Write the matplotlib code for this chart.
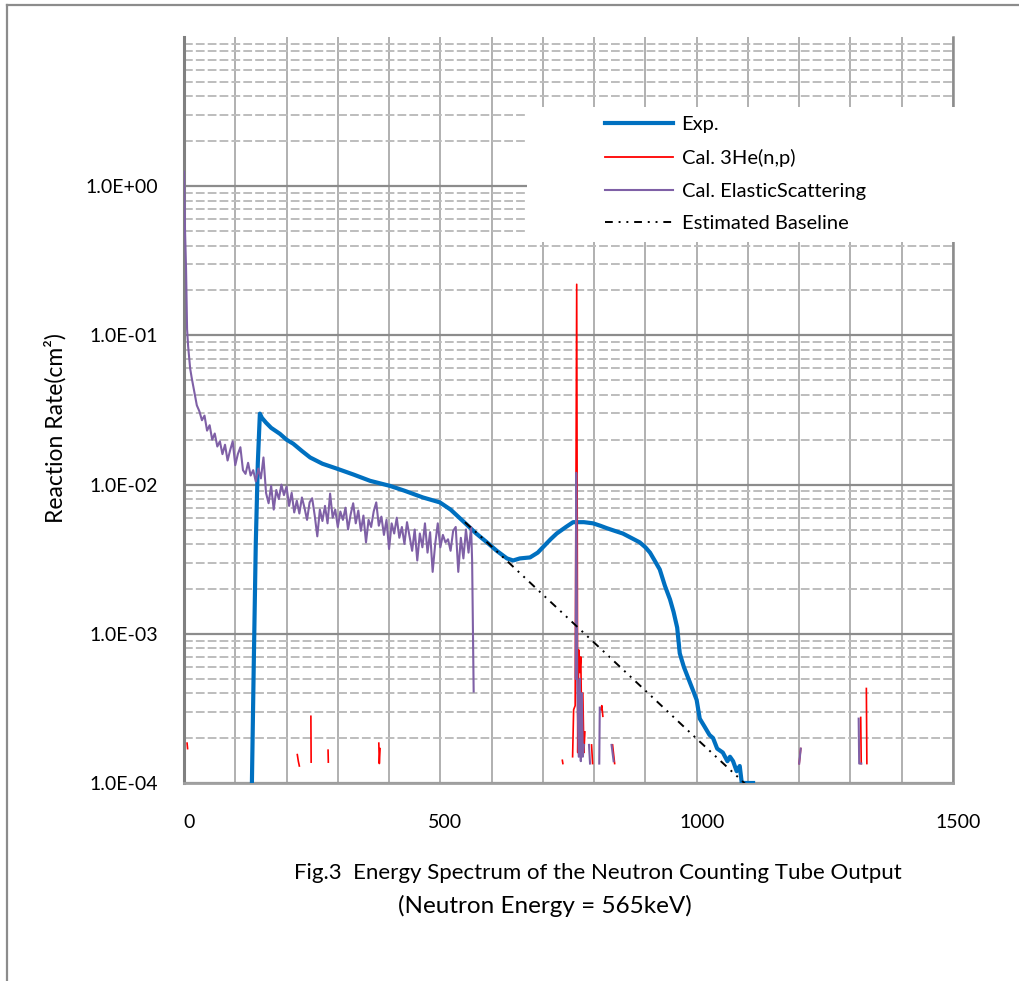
import numpy as np
import matplotlib
matplotlib.use("Agg")
import matplotlib.pyplot as plt
from matplotlib.lines import Line2D
from matplotlib.patches import Rectangle
from matplotlib.ticker import MultipleLocator, FixedLocator, NullFormatter
from matplotlib.transforms import ScaledTranslation

plt.rcParams['font.family'] = ['Lato', 'DejaVu Sans']

# ---------------- data ----------------
exp_x = [132, 136, 140, 144, 148, 152, 160, 170, 187, 200, 213, 230, 246, 270, 298,
         330, 363, 402, 430, 466, 499, 520, 544, 570, 591, 610, 630, 642, 655, 675,
         690, 700, 715, 727, 745, 759, 780, 798, 812, 825, 840, 856, 872, 889, 900,
         909, 918, 928, 938, 948, 955, 962, 967, 975, 987, 995, 1000, 1006, 1015,
         1025, 1032, 1040, 1051, 1060, 1065, 1071, 1078, 1084, 1088, 1095, 1110]
exp_y = [8e-5, 6e-4, 4e-3, 0.014, 0.0299, 0.028, 0.026, 0.024, 0.0219, 0.0200,
         0.0188, 0.0168, 0.0152, 0.0138, 0.0128, 0.0117, 0.0106, 0.0098, 0.0091,
         0.0082, 0.0076, 0.0068, 0.0057, 0.0047, 0.0041, 0.0036, 0.0032, 0.0031,
         0.0032, 0.00325, 0.0035, 0.0038, 0.0043, 0.0047, 0.0052, 0.0056, 0.0056,
         0.0055, 0.0053, 0.0051, 0.0049, 0.0047, 0.0044, 0.0041, 0.0038, 0.0035,
         0.0031, 0.0027, 0.0021, 0.0017, 0.0014, 0.0011, 0.00074, 0.00060, 0.00047,
         0.00040, 0.00036, 0.00027, 0.00024, 0.00021, 0.00020, 0.00017, 0.00016,
         0.00014, 0.00015, 0.00014, 0.00012, 0.00013, 0.0001, 0.0001, 0.0001]

he3_x = [6, 7, 8, 221, 223, 225, 226, 247.5, 248, 249, 281, 281.5, 282,
         380, 381, 382.5, 383, 738, 739, 740,
         758, 760, 763, 766, 768, 770, 772, 774, 776, 778, 780, 782, 783,
         795, 797, 798, 813, 815, 817, 818, 836, 840, 841,
         1200, 1203, 1204, 1320, 1321, 1322, 1331, 1332]
he3_y = [1.85e-4, 1.70e-4, None, 1.55e-4, 1.40e-4, 1.30e-4, None, 2.8e-4, 1.38e-4, None,
         1.66e-4, 1.38e-4, None, 1.85e-4, 1.35e-4, 1.70e-4, None, 1.42e-4, 1.35e-4, None,
         1.5e-4, 3.1e-4, 3.3e-4, 0.22, 1.6e-4, 7.8e-4, 5.5e-4, 7.0e-4, 2.0e-4, 4.0e-4,
         1.6e-4, 2.2e-4, None, 1.8e-4, 1.35e-4, None, 3.1e-4, 3.3e-4, 2.8e-4, None,
         1.8e-4, 1.35e-4, None, 1.35e-4, 1.7e-4, None, 2.75e-4, 1.35e-4, None,
         4.3e-4, 1.35e-4]

elastic_x = [0, 2, 4, 6, 8, 10, 12, 15, 20, 25, 30, 35, 40, 45, 50, 55, 60, 65, 70,
             75, 80, 85, 90, 95, 100, 105, 110, 115, 120, 125, 130, 135, 140, 145,
             150, 155, 160, 165, 170, 175, 180, 185, 190, 195, 200, 205, 210, 215,
             220, 225, 230, 235, 240, 245, 250, 255, 260, 265, 270, 275, 280, 285,
             290, 295, 300, 305, 310, 315, 320, 325, 330, 335, 340, 345, 350, 355,
             360, 365, 370, 375, 380, 385, 390, 395, 400, 405, 410, 415, 420, 425,
             430, 435, 440, 445, 450, 455, 460, 465, 470, 475, 480, 485, 490, 495,
             500, 505, 510, 515, 520, 525, 530, 535, 540, 545, 550, 555, 560, 562,
             565, 566,
             764, 765, 767, 770, 772, 774, 776, 778, 780, 781,
             790, 792, 793, 810, 811, 812, 834, 838, 839,
             1200, 1203, 1204, 1316, 1317, 1321]
elastic_y = [1.25, 0.50, 0.28, 0.11, 0.085, 0.072, 0.060, 0.052, 0.042, 0.034, 0.031,
             0.027, 0.029, 0.023, 0.025, 0.020, 0.022, 0.018, 0.0195, 0.016, 0.0185,
             0.0145, 0.017, 0.0195, 0.0135, 0.016, 0.0178, 0.0125, 0.0118, 0.0140,
             0.0115, 0.0125, 0.0105, 0.0128, 0.0110, 0.0152, 0.0088, 0.0075, 0.0098,
             0.0068, 0.0092, 0.0080, 0.0100, 0.0085, 0.0097, 0.0072, 0.0088, 0.0065,
             0.0078, 0.0064, 0.0082, 0.0070, 0.0058, 0.0076, 0.0081, 0.0062, 0.0045,
             0.0068, 0.0057, 0.0072, 0.0055, 0.0087, 0.0060, 0.0068, 0.0052, 0.0066,
             0.0058, 0.0070, 0.0050, 0.0063, 0.0075, 0.0055, 0.0067, 0.0049, 0.0062,
             0.0041, 0.0058, 0.0052, 0.0066, 0.0076, 0.0053, 0.0061, 0.0046, 0.0058,
             0.0037, 0.0055, 0.0047, 0.0060, 0.0044, 0.0052, 0.0040, 0.0056, 0.0045,
             0.0036, 0.0050, 0.0031, 0.0047, 0.0038, 0.0055, 0.0035, 0.0048, 0.0026,
             0.0040, 0.0055, 0.0038, 0.0046, 0.0041, 0.0043, 0.0036, 0.0049, 0.0052,
             0.0026, 0.0044, 0.0032, 0.0050, 0.0035, 0.0052, 0.0031, 0.00041, None,
             5e-4, 0.012, 4.9e-4, 1.5e-4, 5e-4, 1.4e-4, 4e-4, 1.5e-4, 1.8e-4, None,
             1.8e-4, 1.35e-4, None, 1.35e-4, 3.2e-4, None, 1.8e-4, 1.4e-4, None,
             1.35e-4, 1.7e-4, None, 2.7e-4, 1.35e-4, 1.35e-4]

base_x = [548, 600, 700, 800, 900, 1000, 1097]
base_y = [0.00560, 0.00385, 0.00183, 0.000873, 0.000416, 0.000198, 0.0000970]

series_labels = ["Exp.", "Cal. 3He(n,p)", "Cal. ElasticScattering", "Estimated Baseline"]
xtick_vals = [0, 500, 1000, 1500]
ytick_vals = [1e-4, 1e-3, 1e-2, 1e-1, 1e0]
ytick_labels = ["1.0E-04", "1.0E-03", "1.0E-02", "1.0E-01", "1.0E+00"]


def arr(v):
    return np.array([np.nan if a is None else a for a in v], dtype=float)


# ---------------- figure ----------------
W, H = 1019, 981
fig = plt.figure(figsize=(W / 100, H / 100), dpi=100)
ax = fig.add_axes([184 / W, 1 - 783 / H, 769 / W, 746 / H])

c_blue = '#0070C0'
c_red = '#FF0000'
c_purple = '#7F60A6'
base_ls = (0, (4, 3, 1, 3, 1, 3))

ax.plot(exp_x, arr(exp_y), color=c_blue, lw=3.0, zorder=3, solid_joinstyle='round')
ax.plot(he3_x, arr(he3_y), color=c_red, lw=1.2, zorder=4)
ax.plot(elastic_x, arr(elastic_y), color=c_purple, lw=1.5, zorder=5)
ax.plot(base_x, arr(base_y), color='black', lw=1.4, zorder=6, ls=base_ls)

ax.set_yscale('log')
ax.set_xlim(0, 1500)
ax.set_ylim(1e-4, 10)

ax.xaxis.set_major_locator(FixedLocator(xtick_vals))
ax.xaxis.set_minor_locator(MultipleLocator(100))
ax.set_xticklabels([str(v) for v in xtick_vals])
ax.yaxis.set_major_locator(FixedLocator(ytick_vals))
minors = [m * d for d in [1e-4, 1e-3, 1e-2, 1e-1, 1e0] for m in range(2, 10)]
ax.yaxis.set_minor_locator(FixedLocator(minors))
ax.yaxis.set_minor_formatter(NullFormatter())
ax.set_yticklabels(ytick_labels)

ax.tick_params(which='both', length=0)
ax.tick_params(axis='y', pad=19, labelsize=14)
ax.tick_params(axis='x', pad=22, labelsize=14)
shift = ScaledTranslation(5 / 100, 0, fig.dpi_scale_trans)
for lab in ax.get_xticklabels():
    lab.set_transform(lab.get_transform() + shift)

ax.grid(which='both', axis='x', color='#B0B0B0', lw=1.4)
ax.grid(which='major', axis='y', color='#8C8C8C', lw=1.6)
ax.grid(which='minor', axis='y', color='#BDBDBD', lw=1.4, ls=(0, (4.5, 1.6)))
ax.set_axisbelow(True)

ax.spines['top'].set_visible(False)
ax.spines['left'].set_color('#808080')
ax.spines['left'].set_linewidth(2.2)
ax.spines['bottom'].set_color('#A0A0A0')
ax.spines['bottom'].set_linewidth(2.0)
ax.spines['right'].set_color('#8C8C8C')
ax.spines['right'].set_linewidth(1.8)

# white legend area
fig.add_artist(Rectangle((527 / W, 1 - 242 / H), (962 - 527) / W, (242 - 107) / H,
                         transform=fig.transFigure, facecolor='white',
                         edgecolor='none', zorder=1))

handles = [Line2D([], [], color=c_blue, lw=3.0),
           Line2D([], [], color=c_red, lw=1.3),
           Line2D([], [], color=c_purple, lw=1.5),
           Line2D([], [], color='black', lw=1.4, ls=base_ls)]
fig.legend(handles, series_labels, loc='upper left',
           bbox_to_anchor=(605 / W, 1 - 116 / H), bbox_transform=fig.transFigure,
           frameon=False, fontsize=14.5, handlelength=3.4, handletextpad=0.4,
           labelspacing=0.78, borderpad=0, borderaxespad=0)

fig.text(55 / W, 1 - 428 / H, 'Reaction Rate(cm²)', rotation=90,
         ha='center', va='center', fontsize=16.5)

fig.text(598 / W, 1 - 873 / H,
         'Fig.3  Energy Spectrum of the Neutron Counting Tube Output',
         ha='center', va='center', fontsize=16)
fig.text(545 / W, 1 - 906 / H, '(Neutron Energy = 565keV)',
         ha='center', va='center', fontsize=17.5)

# outer frame lines (left and top visible)
fig.add_artist(Line2D([7 / W, 7 / W], [0, 1 - 5 / H], transform=fig.transFigure,
                      color='#8C8C8C', lw=1.6))
fig.add_artist(Line2D([7 / W, 1], [1 - 5 / H, 1 - 5 / H], transform=fig.transFigure,
                      color='#8C8C8C', lw=1.6))

fig.savefig('out.png', dpi=100)
